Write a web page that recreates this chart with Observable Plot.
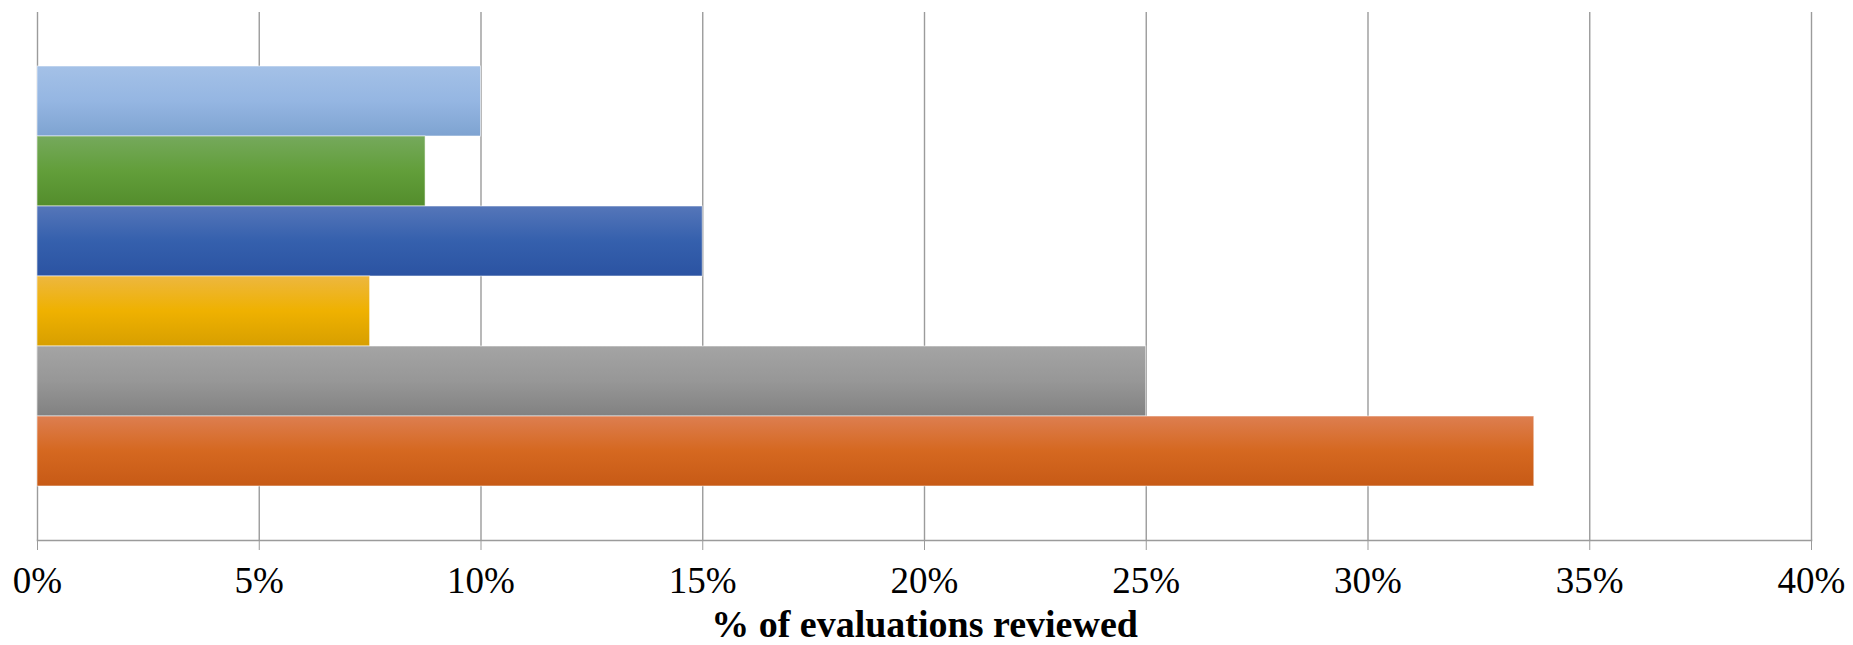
<!DOCTYPE html>
<html>
<head>
<meta charset="utf-8">
<script src="https://cdn.jsdelivr.net/npm/d3@7"></script>
<script src="https://cdn.jsdelivr.net/npm/@observablehq/plot@0.6"></script>
<style>
  html, body { margin: 0; padding: 0; background: #fff; }
  #chart svg { display: block; }
  #chart svg text { font-family: "Liberation Serif", "Times New Roman", serif; }
  [aria-label="x-axis label"] text { font-weight: bold; font-size: 38px; }
</style>
</head>
<body>
<div id="chart"></div>
<script>
// Data (top to bottom)
const series = ["Series A", "Series B", "Series C", "Series D", "Series E", "Series F"];
const shares = [10, 8.75, 15, 7.5, 25, 33.75]; // % of evaluations reviewed
const xTicks = [0, 5, 10, 15, 20, 25, 30, 35, 40];
const axisTitle = "% of evaluations reviewed";

// Styles: gradient stops per series (top, middle, bottom)
const gradientStops = [
  ["#a4c1e7", "#95b6e2", "#7ea3d1"],
  ["#75a95c", "#629e3a", "#538d2c"],
  ["#5576b9", "#3560ad", "#2b53a2"],
  ["#edb73f", "#efb100", "#d79f00"],
  ["#a4a4a4", "#979797", "#818181"],
  ["#dd7e50", "#d56820", "#c75a16"]
];

const rows = series.map((s, i) => ({series: s, value: shares[i], fill: `url(#grad${i})`}));

const serif = "'Liberation Serif', 'Times New Roman', serif";

const plot = Plot.plot({
  width: 1853,
  height: 645,
  marginLeft: 37,
  marginRight: 42,
  marginTop: 12,
  marginBottom: 105,
  style: {fontFamily: serif, fontSize: "37px", color: "#000", background: "#fff"},
  x: {domain: [0, 40], ticks: xTicks},
  y: {domain: series, paddingInner: 0, paddingOuter: 0.75, axis: null},
  color: {type: "identity"},
  marks: [
    Plot.ruleX(xTicks, {stroke: "#9b9b9b", strokeWidth: 1.4}),
    Plot.barX(rows, {x: "value", y: "series", fill: "fill", stroke: "#ffffff", strokeOpacity: 0.55, strokeWidth: 1}),
    Plot.frame({anchor: "bottom", stroke: "#9b9b9b", strokeWidth: 1.6}),
    Plot.axisX({
      ticks: xTicks,
      tickFormat: d => d + "%",
      tickSize: 10,
      tickPadding: 16,
      stroke: "#9b9b9b",
      fill: "#000",
      fontFamily: serif,
      label: axisTitle,
      labelAnchor: "center",
      labelArrow: false,
      labelOffset: 96
    })
  ]
});

// gradient definitions for the bars
const defs = d3.select(plot).insert("defs", ":first-child");
gradientStops.forEach((stops, i) => {
  const g = defs.append("linearGradient").attr("id", `grad${i}`)
    .attr("x1", 0).attr("y1", 0).attr("x2", 0).attr("y2", 1);
  g.append("stop").attr("offset", "0%").attr("stop-color", stops[0]);
  g.append("stop").attr("offset", "50%").attr("stop-color", stops[1]);
  g.append("stop").attr("offset", "100%").attr("stop-color", stops[2]);
});

document.getElementById("chart").appendChild(plot);
</script>
</body>
</html>
